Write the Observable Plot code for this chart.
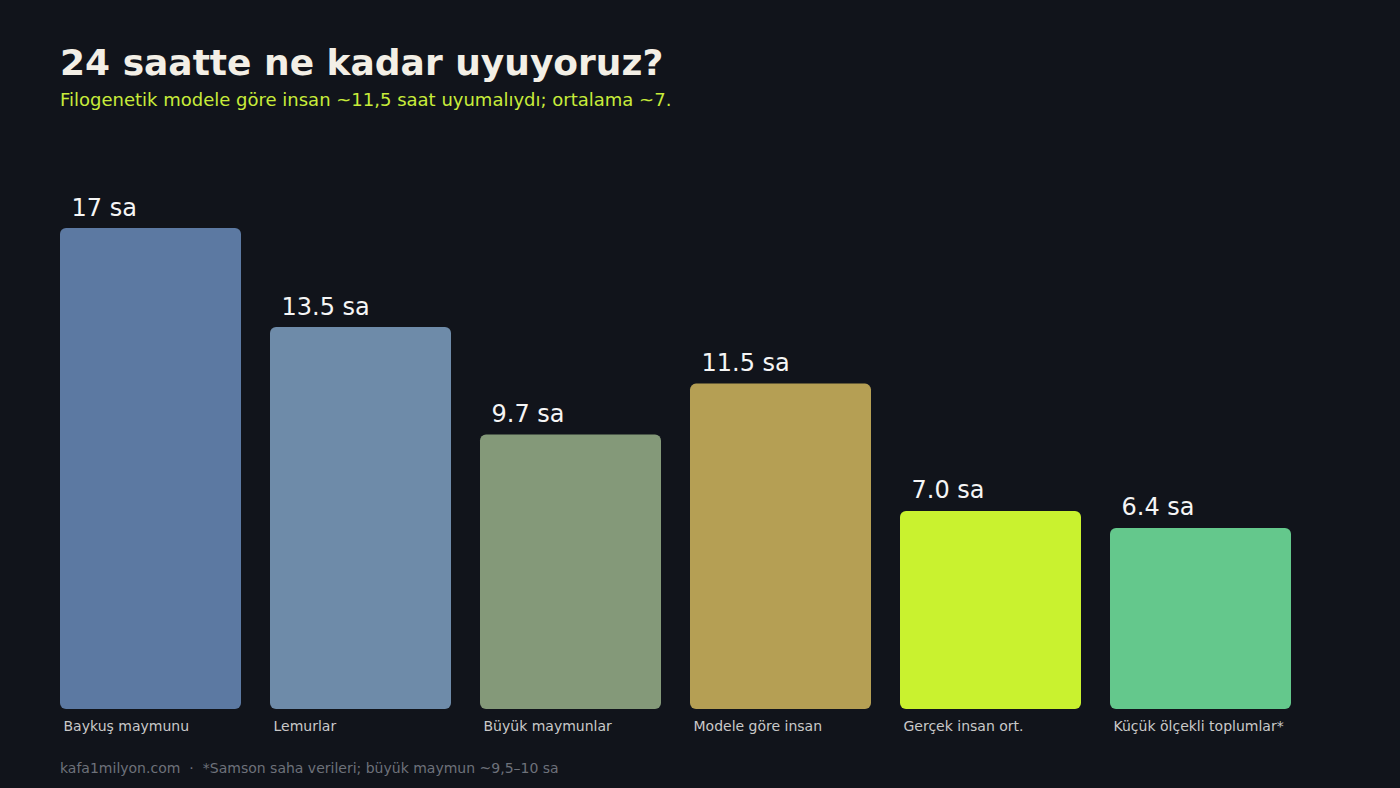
<!DOCTYPE html>
<html>
<head>
<meta charset="utf-8">
<script src="https://cdn.jsdelivr.net/npm/d3@7"></script>
<script src="https://cdn.jsdelivr.net/npm/@observablehq/plot@0.6"></script>
<style>
  html, body { margin: 0; padding: 0; background: #11141b; }
  #wrap { position: relative; width: 1400px; height: 788px; background: #11141b; font-family: "DejaVu Sans", sans-serif; overflow: hidden; }
  #title { position: absolute; left: 60px; top: 45px; font-size: 36px; line-height: 36px; font-weight: bold; color: #f3efe6; white-space: nowrap; }
  #subtitle { position: absolute; left: 60px; top: 91px; font-size: 18px; line-height: 18px; color: #c8ec3a; white-space: nowrap; }
  #chart { position: absolute; left: 0; top: 130px; }
  #footer { position: absolute; left: 60px; top: 761px; font-size: 14px; line-height: 14px; color: #6d717a; white-space: nowrap; }
  #footer .sep { margin: 0 9px; }
</style>
</head>
<body>
<div id="wrap">
  <div id="title">24 saatte ne kadar uyuyoruz?</div>
  <div id="subtitle">Filogenetik modele göre insan ~11,5 saat uyumalıydı; ortalama ~7.</div>
  <div id="chart"></div>
  <div id="footer">kafa1milyon.com<span class="sep">·</span>*Samson saha verileri; büyük maymun ~9,5–10 sa</div>
</div>
<script>
const categories = ["Baykuş maymunu", "Lemurlar", "Büyük maymunlar", "Modele göre insan", "Gerçek insan ort.", "Küçük ölçekli toplumlar*"];
const hours = [17, 13.5, 9.7, 11.5, 7.0, 6.4];
const valueLabels = ["17 sa", "13.5 sa", "9.7 sa", "11.5 sa", "7.0 sa", "6.4 sa"];
const barColors = ["#5c79a2", "#6e8ba9", "#849979", "#b59f54", "#c9f22f", "#64c88c"];

const data = categories.map((c, i) => ({category: c, hours: hours[i], label: valueLabels[i]}));

const chart = Plot.plot({
  width: 1400,
  height: 620,
  marginTop: 98,
  marginBottom: 41,
  marginLeft: 60,
  marginRight: 109,
  style: {background: "transparent", color: "#c9c9c9", fontFamily: "DejaVu Sans, sans-serif"},
  x: {domain: categories, paddingInner: 29 / 210, paddingOuter: 0},
  y: {domain: [0, 17], axis: null},
  color: {domain: categories, range: barColors},
  marks: [
    Plot.barY(data, {x: "category", y: "hours", fill: "category", rx: 6}),
    Plot.text(data, {x: "category", y: "hours", text: "label", textAnchor: "start", lineAnchor: "bottom", dx: -79.5, dy: -13, fontSize: 24, fill: "#f5f5f5"}),
    Plot.axisX({tickSize: 0, tickPadding: 12, textAnchor: "start", dx: -87.5, fontSize: 14, fill: "#c9c9c9", label: null})
  ]
});
document.getElementById("chart").appendChild(chart);
</script>
</body>
</html>
